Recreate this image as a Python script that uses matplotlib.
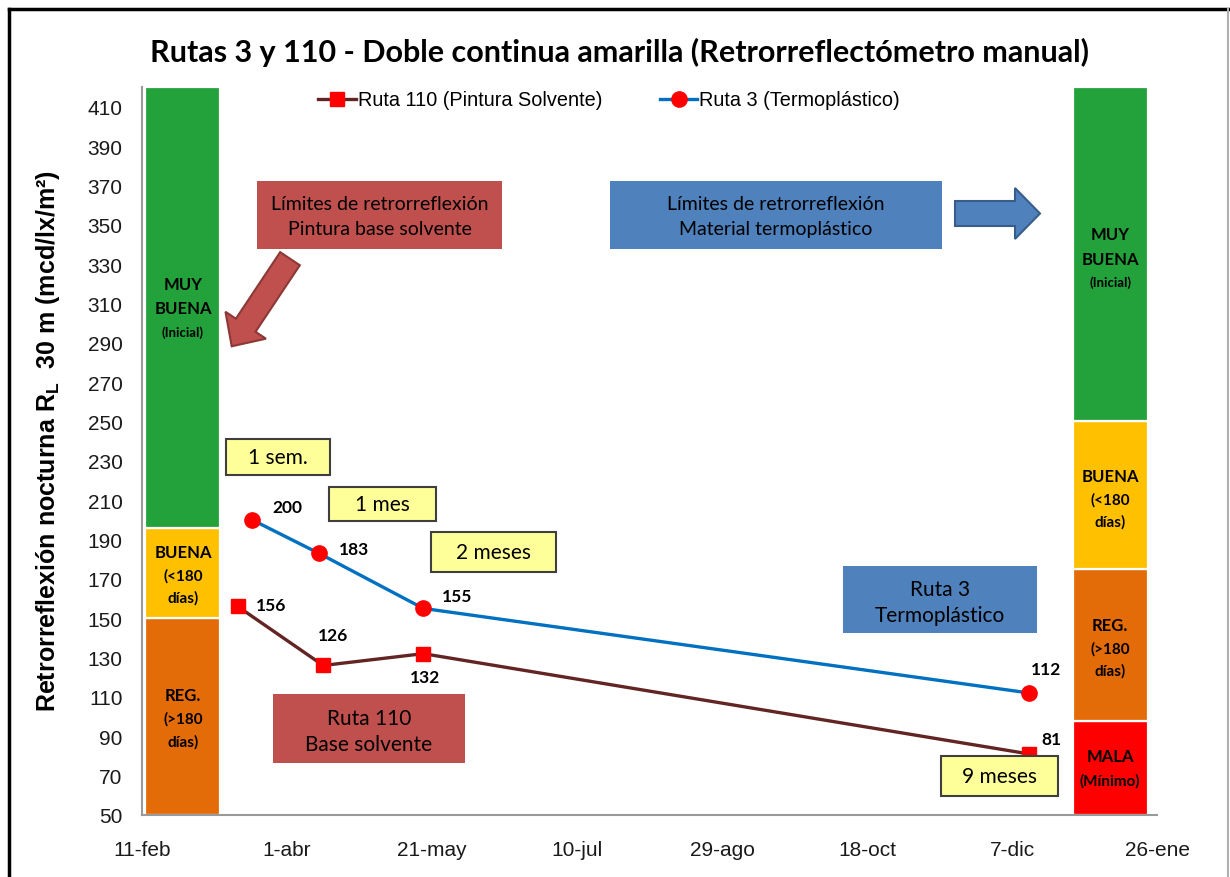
import matplotlib
matplotlib.use('Agg')
import matplotlib.pyplot as plt
from matplotlib.patches import Rectangle, Polygon
from matplotlib.lines import Line2D
import numpy as np

# ---------------- data ----------------
tick_days = [0, 50, 100, 150, 200, 250, 300, 350]
tick_labels = ['11-feb', '1-abr', '21-may', '10-jul', '29-ago', '18-oct', '7-dic', '26-ene']
y_ticks = list(range(50, 411, 20))

ruta110_days = [33, 62.5, 97, 306]
ruta110_vals = [156, 126, 132, 81]
ruta3_days = [38, 61, 97, 306]
ruta3_vals = [200, 183, 155, 112]

# limit bands (stacked columns)
left_band_edges = [50, 150, 196, 420]
left_band_colors = ['#E36C09', '#FFC000', '#23A23B']
right_band_edges = [50, 98, 175, 250, 420]
right_band_colors = ['#FF0000', '#E36C09', '#FFC000', '#23A23B']
left_bar_day = 14
right_bar_day = 334
bar_width = 26

# ---------------- figure ----------------
W, H = 1230, 878
fig = plt.figure(figsize=(W / 100, H / 100), dpi=100)
plt.rcParams['mathtext.fontset'] = 'custom'
plt.rcParams['mathtext.rm'] = 'Liberation Sans'
plt.rcParams['mathtext.bf'] = 'Liberation Sans:bold'

CAL = 'Lato'
ARIAL = 'Liberation Sans'


def fx(px):
    return px / W


def fy(py):
    return 1 - py / H


ax = fig.add_axes([fx(142), fy(816), (1157 - 142) / W, (816 - 88) / H])
ax.set_xlim(0, 350)
ax.set_ylim(50, 420)

# bands
for edges, colors, xc in [(left_band_edges, left_band_colors, left_bar_day),
                          (right_band_edges, right_band_colors, right_bar_day)]:
    bottoms = edges[:-1]
    heights = np.diff(edges)
    ax.bar([xc] * len(heights), heights, bottom=bottoms, width=bar_width,
           color=colors, edgecolor='white', linewidth=1.6, zorder=1)

# series
ax.plot(ruta110_days, ruta110_vals, color='#632523', lw=2.4, marker='s',
        markersize=10, markerfacecolor='#FF0000', markeredgecolor='#FF0000',
        zorder=3, label='Ruta 110 (Pintura Solvente)')
ax.plot(ruta3_days, ruta3_vals, color='#0070C0', lw=2.4, marker='o',
        markersize=11, markerfacecolor='#FF0000', markeredgecolor='#FF0000',
        zorder=3, label='Ruta 3 (Termoplástico)')

# data labels (offsets in points)
r3_off = [(25, 9), (25, 3), (24, 9), (12, 17)]
r110_off = [(24, 1), (7, 22), (1, -17), (16, 11)]
for d, v, o in zip(ruta3_days, ruta3_vals, r3_off):
    ax.annotate(str(v), (d, v), xytext=o, textcoords='offset points',
                ha='center', va='center', fontsize=12.5, fontweight='bold',
                family=CAL, color='black', zorder=5)
for d, v, o in zip(ruta110_days, ruta110_vals, r110_off):
    ax.annotate(str(v), (d, v), xytext=o, textcoords='offset points',
                ha='center', va='center', fontsize=12.5, fontweight='bold',
                family=CAL, color='black', zorder=5)

# axes styling
ax.set_xticks(tick_days)
ax.set_xticklabels(tick_labels)
ax.set_yticks(y_ticks)
for lab in ax.get_xticklabels() + ax.get_yticklabels():
    lab.set_family(ARIAL)
    lab.set_fontsize(15)
    lab.set_color('#1a1a1a')
ax.tick_params(axis='both', length=0)
ax.tick_params(axis='y', pad=14)
ax.tick_params(axis='x', pad=18)
for s in ['top', 'right']:
    ax.spines[s].set_visible(False)
for s in ['left', 'bottom']:
    ax.spines[s].set_color('#9a9a9a')
    ax.spines[s].set_linewidth(1.5)

# legend
leg = fig.legend(loc='center', bbox_to_anchor=(fx(609), fy(101)), ncol=2,
                 frameon=False, prop={'family': ARIAL, 'size': 14.3},
                 handlelength=1.9, handletextpad=0.1, columnspacing=2.9)

# title and y label
fig.text(fx(620), fy(52), 'Rutas 3 y 110 - Doble continua amarilla (Retrorreflectómetro manual)',
         ha='center', va='center', fontsize=22, fontweight='bold', family=CAL)
fig.text(fx(48), fy(441), 'Retrorreflexión nocturna $\\mathbf{R_L}$  30 m (mcd/lx/m²)',
         ha='center', va='center', rotation=90, fontsize=18, fontweight='bold',
         family=ARIAL)


# boxes
def box(x0, y0, x1, y1, face, edge='none', lw=0):
    fig.patches.append(Rectangle((fx(x0), fy(y1)), fx(x1) - fx(x0), fy(y0) - fy(y1),
                                 transform=fig.transFigure, facecolor=face,
                                 edgecolor=edge, linewidth=lw, zorder=4))


def ftext(x, y, s, size, weight='normal', ls=1.2):
    fig.text(fx(x), fy(y), s, ha='center', va='center', fontsize=size,
             fontweight=weight, family=CAL, linespacing=ls, zorder=6)


RED = '#C0504D'
BLUE = '#4F81BD'
YEL = '#FFFF99'

box(257, 182, 502, 250, RED)
ftext(379.5, 217, 'Límites de retrorreflexión\nPintura base solvente', 14, ls=1.55)
box(610, 182, 942, 250, BLUE)
ftext(776, 217, 'Límites de retrorreflexión\nMaterial termoplástico', 14, ls=1.55)
box(843, 567, 1037, 634, BLUE)
ftext(940, 603, 'Ruta 3\nTermoplástico', 15, ls=1.4)
box(273, 695, 465, 764, RED)
ftext(369, 732, 'Ruta 110\nBase solvente', 15, ls=1.4)

for (x0, y0, x1, y1, s) in [(226, 440, 330, 476, '1 sem.'),
                            (329, 488, 436, 522, '1 mes'),
                            (431, 533, 556, 573, '2 meses'),
                            (941, 757, 1058, 797, '9 meses')]:
    box(x0, y0, x1, y1, YEL, '#3f3f3f', 1.5)
    ftext((x0 + x1) / 2, (y0 + y1) / 2, s, 15)


# arrows
def arrow(T, P, hw_shaft, hw_head, head_len, face, edge):
    T = np.array(T, float)
    P = np.array(P, float)
    d = P - T
    L = np.hypot(*d)
    u = d / L
    n = np.array([-u[1], u[0]])
    B = P - u * head_len
    pts = [T + n * hw_shaft, B + n * hw_shaft, B + n * hw_head, P,
           B - n * hw_head, B - n * hw_shaft, T - n * hw_shaft]
    pts = [(fx(p[0]), fy(p[1])) for p in pts]
    fig.patches.append(Polygon(pts, closed=True, transform=fig.transFigure,
                               facecolor=face, edgecolor=edge, linewidth=1.5, zorder=4))


arrow((955, 214.5), (1040, 214.5), 12.5, 25.5, 25, BLUE, '#385D8A')
arrow((290, 259.7), (231.7, 347.3), 11.8, 24.3, 25.3, RED, '#8C3836')

# band labels
def blabel(x, ys, texts, sizes):
    for y, t, s in zip(ys, texts, sizes):
        ftext(x, y, t, s, 'bold')


blabel(183, [285, 309, 333], ['MUY', 'BUENA', '(Inicial)'], [12, 12, 9.5])
blabel(183, [553, 576, 598], ['BUENA', '(<180', 'días)'], [12, 11, 11])
blabel(183, [696, 719, 742], ['REG.', '(>180', 'días)'], [12, 11, 11])
blabel(1110, [235, 260, 283], ['MUY', 'BUENA', '(Inicial)'], [12, 12, 9.5])
blabel(1110, [477, 500, 522], ['BUENA', '(<180', 'días)'], [12, 11, 11])
blabel(1110, [626, 649, 671], ['REG.', '(>180', 'días)'], [12, 11, 11])
blabel(1110, [757, 781], ['MALA', '(Mínimo)'], [12, 11])

# outer frame
fig.add_artist(Line2D([fx(9), fx(9)], [fy(10), 0], transform=fig.transFigure,
                      color='black', lw=2.5))
fig.add_artist(Line2D([fx(9), 1], [fy(10), fy(10)], transform=fig.transFigure,
                      color='black', lw=2.5))
fig.add_artist(Line2D([fx(1228), fx(1228)], [fy(10), 0], transform=fig.transFigure,
                      color='#b0b0b0', lw=1.5))

fig.savefig('out.png', dpi=100)
